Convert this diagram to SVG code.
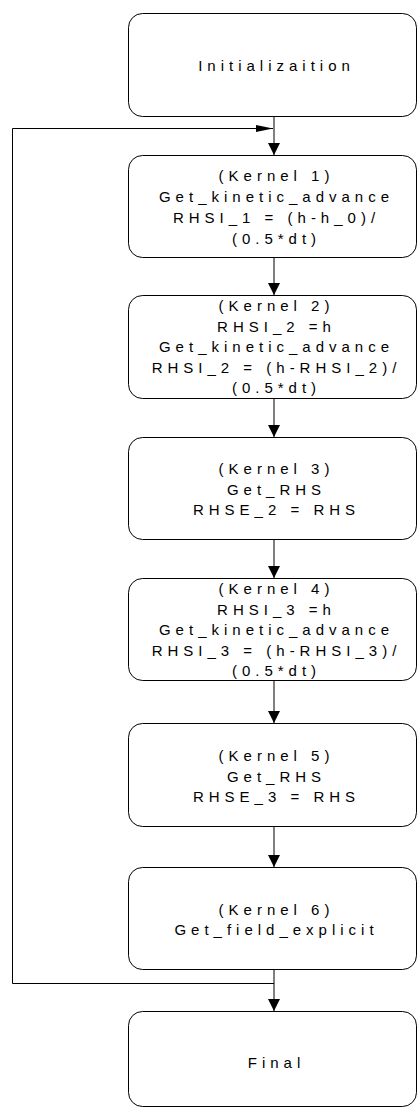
<svg xmlns="http://www.w3.org/2000/svg" width="417" height="1108" viewBox="0 0 417 1108">
<style>
.box{fill:#fff;stroke:#000;stroke-width:1}
.t{font-family:"Liberation Sans",Arial,sans-serif;font-size:15px;letter-spacing:5px;text-anchor:middle;fill:#000}
.c{fill:none;stroke:#000;stroke-width:1}
</style>
<defs>
<marker id="ah" markerWidth="12" markerHeight="12" refX="12" refY="6" orient="auto" markerUnits="userSpaceOnUse">
<path d="M0,0 L12,6 L0,12 Z" fill="#000"/>
</marker>
<marker id="ahs" markerWidth="17" markerHeight="7" refX="17" refY="3.5" orient="auto" markerUnits="userSpaceOnUse">
<path d="M0,0 L17,3.5 L0,7 Z" fill="#000"/>
</marker>
</defs>
<g id="connectors">
<path class="c" d="M274,116 V155" marker-end="url(#ah)"/>
<path class="c" d="M274,257 V295" marker-end="url(#ah)"/>
<path class="c" d="M274,398 V437" marker-end="url(#ah)"/>
<path class="c" d="M274,539 V578" marker-end="url(#ah)"/>
<path class="c" d="M274,680 V723" marker-end="url(#ah)"/>
<path class="c" d="M274,826 V867" marker-end="url(#ah)"/>
<path class="c" d="M274,969 V1011" marker-end="url(#ah)"/>
<path class="c" d="M274,983.5 H12.5 V128.5 H273" marker-end="url(#ahs)"/>
</g>
<g id="init">
<rect class="box" x="128.5" y="13.5" width="288" height="103" rx="14"/>
<text class="t" x="276.5" y="71">Initializaition</text>
</g>
<g id="kernel1">
<rect class="box" x="128.5" y="155.5" width="288" height="102" rx="14"/>
<text class="t" x="276.5" y="181">(Kernel 1)</text>
<text class="t" x="276.5" y="202">Get_kinetic_advance</text>
<text class="t" x="276.5" y="223">RHSI_1 = (h-h_0)/</text>
<text class="t" x="276.5" y="244">(0.5*dt)</text>
</g>
<g id="kernel2">
<rect class="box" x="128.5" y="295.5" width="288" height="103" rx="14"/>
<text class="t" x="276.5" y="311">(Kernel 2)</text>
<text class="t" x="276.5" y="331.6">RHSI_2 =h</text>
<text class="t" x="276.5" y="352.2">Get_kinetic_advance</text>
<text class="t" x="276.5" y="372.8">RHSI_2 = (h-RHSI_2)/</text>
<text class="t" x="276.5" y="393.4">(0.5*dt)</text>
</g>
<g id="kernel3">
<rect class="box" x="128.5" y="437.5" width="288" height="102" rx="14"/>
<text class="t" x="276.5" y="474">(Kernel 3)</text>
<text class="t" x="276.5" y="494.5">Get_RHS</text>
<text class="t" x="276.5" y="515">RHSE_2 = RHS</text>
</g>
<g id="kernel4">
<rect class="box" x="128.5" y="578.5" width="288" height="102" rx="14"/>
<text class="t" x="276.5" y="594">(Kernel 4)</text>
<text class="t" x="276.5" y="614.6">RHSI_3 =h</text>
<text class="t" x="276.5" y="635.2">Get_kinetic_advance</text>
<text class="t" x="276.5" y="655.8">RHSI_3 = (h-RHSI_3)/</text>
<text class="t" x="276.5" y="676.4">(0.5*dt)</text>
</g>
<g id="kernel5">
<rect class="box" x="128.5" y="723.5" width="288" height="103" rx="14"/>
<text class="t" x="276.5" y="761">(Kernel 5)</text>
<text class="t" x="276.5" y="781.5">Get_RHS</text>
<text class="t" x="276.5" y="802">RHSE_3 = RHS</text>
</g>
<g id="kernel6">
<rect class="box" x="128.5" y="867.5" width="288" height="102" rx="14"/>
<text class="t" x="276.5" y="915">(Kernel 6)</text>
<text class="t" x="276.5" y="935">Get_field_explicit</text>
</g>
<g id="final">
<rect class="box" x="128.5" y="1011.5" width="288" height="95" rx="14"/>
<text class="t" x="276.5" y="1068">Final</text>
</g>
</svg>
